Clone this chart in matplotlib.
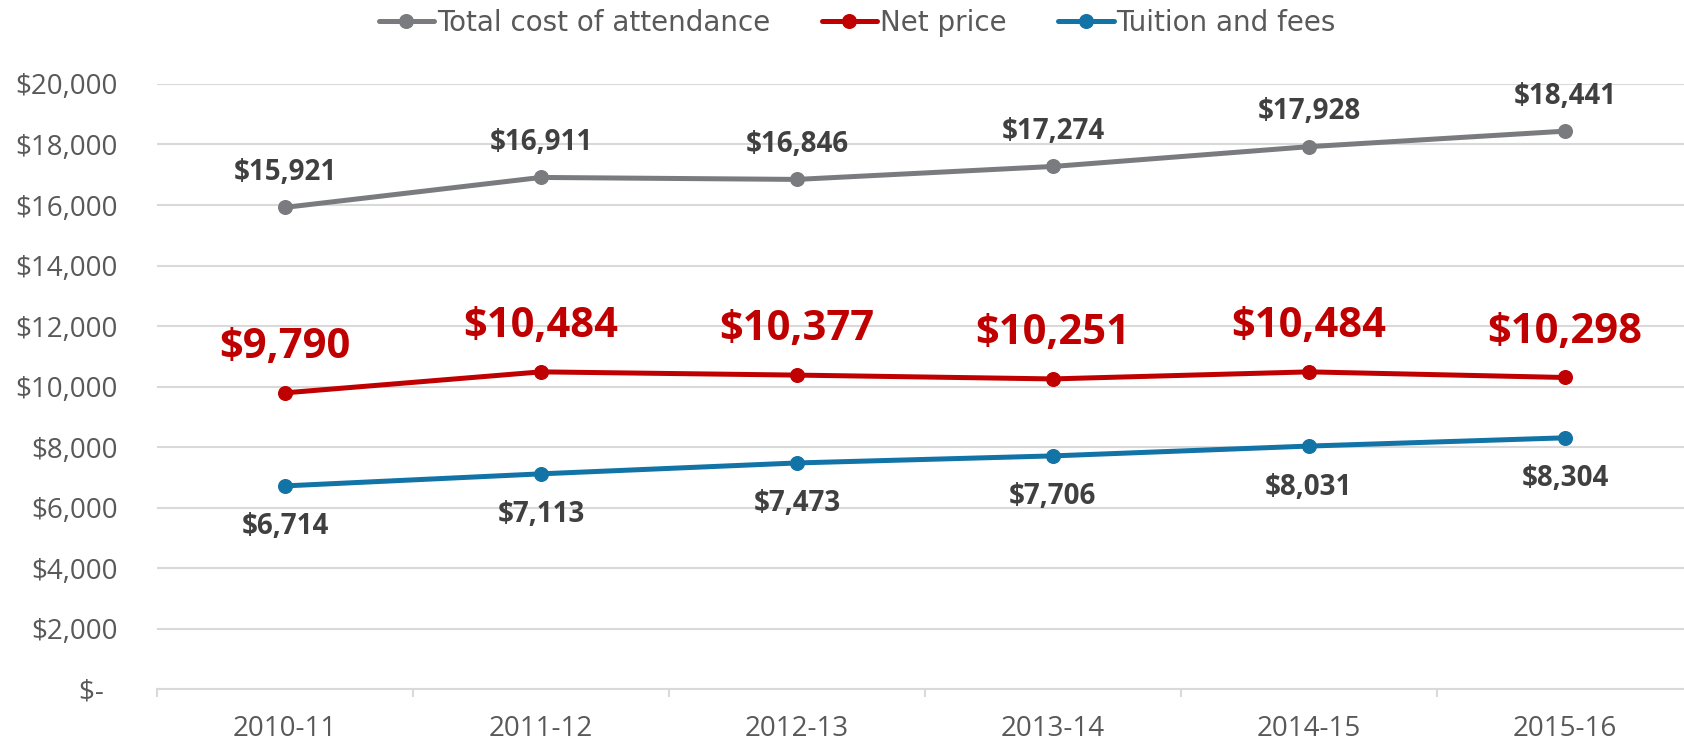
import matplotlib.pyplot as plt
from matplotlib.ticker import FuncFormatter

years = ["2010-11", "2011-12", "2012-13", "2013-14", "2014-15", "2015-16"]
total_cost = [15921, 16911, 16846, 17274, 17928, 18441]
net_price = [9790, 10484, 10377, 10251, 10484, 10298]
tuition = [6714, 7113, 7473, 7706, 8031, 8304]

GRAY = "#7A7B7E"
RED = "#C00000"
BLUE = "#1273A6"
LABEL_DARK = "#404040"
TICK_COLOR = "#595959"
GRID_COLOR = "#D9D9D9"


def money(v, pos=None):
    if v == 0:
        return "$-  "
    return "${:,.0f}".format(v)


fig = plt.figure(figsize=(16.84, 7.44), dpi=100)
ax = fig.add_axes([0.0932, 0.0739, 0.9121, 0.8132])

x = list(range(len(years)))
# name, values, line colour, label colour, label size, label offset (pt)
series = [
    ("Total cost of attendance", total_cost, GRAY, LABEL_DARK, 20, 25),
    ("Net price", net_price, RED, RED, 30, 32.5),
    ("Tuition and fees", tuition, BLUE, LABEL_DARK, 20, -29.5),
]

for name, vals, col, txt_col, fs, off in series:
    ax.plot(x, vals, color=col, linewidth=3.6, marker="o", markersize=9.8,
            label=name, solid_capstyle="round", zorder=3)
    for xi, v in zip(x, vals):
        ax.annotate(money(v), (xi, v), xytext=(0, off), textcoords="offset points",
                    ha="center", va="center", fontsize=fs, fontweight="bold",
                    color=txt_col, family="Open Sans")

ax.set_xlim(-0.5, len(years) - 0.5)
ax.set_ylim(0, 20000)
ax.set_yticks(range(0, 20001, 2000))
ax.yaxis.set_major_formatter(FuncFormatter(money))
ax.set_xticks(x)
ax.set_xticklabels(years)
ax.set_xticks([i - 0.5 for i in range(len(years) + 1)], minor=True)

ax.grid(True, axis="y", color=GRID_COLOR, linewidth=1.5, zorder=0)
ax.set_axisbelow(True)
for side in ["left", "right", "top"]:
    ax.spines[side].set_visible(False)
ax.spines["bottom"].set_color(GRID_COLOR)
ax.spines["bottom"].set_linewidth(1.5)

ax.tick_params(axis="y", length=0, pad=28, labelsize=20, labelcolor=TICK_COLOR)
ax.tick_params(axis="x", which="major", length=0, pad=19, labelsize=20,
               labelcolor=TICK_COLOR)
ax.tick_params(axis="x", which="minor", length=6, width=1.5, color=GRID_COLOR)
for lbl in ax.get_xticklabels() + ax.get_yticklabels():
    lbl.set_family("Open Sans")

leg = fig.legend(loc="center", bbox_to_anchor=(0.509, 0.969), ncol=3,
                 frameon=False, fontsize=20, handlelength=2.0,
                 handletextpad=0.1, columnspacing=1.85, borderaxespad=0,
                 borderpad=0)
for t in leg.get_texts():
    t.set_color(TICK_COLOR)

fig.savefig("out.png", dpi=100)
